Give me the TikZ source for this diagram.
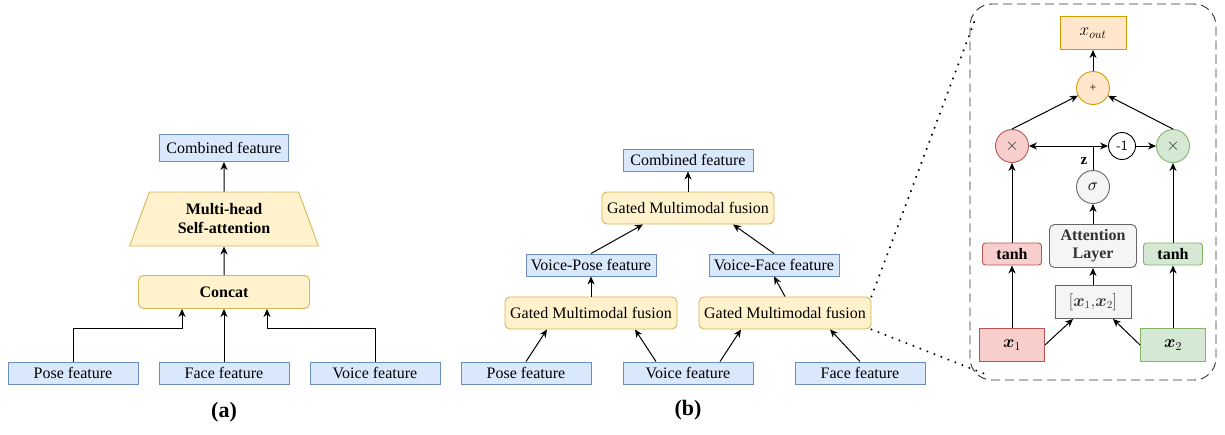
\documentclass[tikz,border=0pt]{standalone}
\usepackage{fontspec}
\setmainfont{Liberation Serif}
\usepackage{amsmath}
\usetikzlibrary{arrows.meta,positioning,fit,shapes}

\definecolor{featFill}{HTML}{DAE8FC}
\definecolor{featLine}{HTML}{6C8EBF}
\definecolor{fuseFill}{HTML}{FFF2CC}
\definecolor{fuseLine}{HTML}{D6B656}
\definecolor{outFill}{HTML}{FFE6CC}
\definecolor{outLine}{HTML}{D79B00}
\definecolor{redFill}{HTML}{F8CECC}
\definecolor{redLine}{HTML}{B85450}
\definecolor{greenFill}{HTML}{D5E8D4}
\definecolor{greenLine}{HTML}{82B366}
\definecolor{grayFill}{HTML}{F5F5F5}
\definecolor{grayLine}{HTML}{666666}
\definecolor{grayText}{HTML}{333333}

\begin{document}
\begin{tikzpicture}
	[ x=1pt, y=-1pt, font=\fontsize{16}{19}\selectfont,
		feature/.style={rectangle,draw=featLine,fill=featFill,line width=0.9pt,minimum width=130pt,minimum height=22pt,inner sep=0pt},
		fusion/.style={rectangle,rounded corners=5pt,draw=fuseLine,fill=fuseFill,line width=0.9pt,minimum width=172pt,minimum height=32pt,inner sep=0pt},
		op/.style={circle,line width=0.9pt,minimum size=33pt,inner sep=0pt},
		gate/.style={rectangle,line width=0.9pt,inner sep=0pt},
		caption/.style={font=\fontsize{22}{25}\selectfont\bfseries},
		arrowOut/.style={-{Stealth[length=8pt,width=7pt,inset=2.5pt]},line width=1pt},
		link/.style={line width=1pt},
		zoomLine/.style={line width=2.3pt,dash pattern=on 0.01pt off 7.5pt,line cap=round}]

	\useasboundingbox (0,0) rectangle (1225,434);

	% (a) concat + self-attention
	\node[feature] (poseA) at (73,373) {Pose feature};
	\node[feature] (faceA) at (224,373) {Face feature};
	\node[feature] (voiceA) at (375,373) {Voice feature};
	\node[fusion,minimum width=171pt,minimum height=33pt,font=\fontsize{16}{19}\selectfont\bfseries] (concat) at (224,292) {Concat};
	\node[trapezium,trapezium angle=68,trapezium stretches=true,minimum width=189pt,minimum height=54pt,
		draw=fuseLine,fill=fuseFill,line width=0.9pt,inner sep=0pt,align=center,
		font=\fontsize{16}{19}\selectfont\bfseries] (selfatt) at (224,219) {Multi-head\\Self-attention};
	\node[feature,minimum width=129pt,minimum height=27pt] (combA) at (224,148) {Combined feature};

	\draw[arrowOut] (poseA.north) -- ++(0,-33) -| ([xshift=-42pt]concat.south);
	\draw[arrowOut] (faceA.north) -- (concat.south);
	\draw[arrowOut] (voiceA.north) -- ++(0,-33) -| ([xshift=43pt]concat.south);
	\draw[arrowOut] (concat.north) -- (selfatt.south);
	\draw[arrowOut] (selfatt.north) -- (combA.south);

	\node[caption] (capA) at (224,412) {(a)};

	% (b) hierarchical gated fusion
	\node[feature] (poseB) at (526,373) {Pose feature};
	\node[feature] (voiceB) at (688,373) {Voice feature};
	\node[feature] (faceB) at (860,373) {Face feature};
	\node[fusion] (gmfL) at (591,313) {Gated Multimodal fusion};
	\node[fusion] (gmfR) at (785,313) {Gated Multimodal fusion};
	\node[feature] (vpose) at (591,265) {Voice-Pose feature};
	\node[feature] (vface) at (774,265) {Voice-Face feature};
	\node[fusion] (gmfT) at (688,208) {Gated Multimodal fusion};
	\node[feature] (combB) at (688,160) {Combined feature};

	\draw[arrowOut] (poseB.north) -- ([xshift=-44pt]gmfL.south);
	\draw[arrowOut] ([xshift=-32pt]voiceB.north) -- ([xshift=44pt]gmfL.south);
	\draw[arrowOut] ([xshift=32pt]voiceB.north) -- ([xshift=-44pt]gmfR.south);
	\draw[arrowOut] (faceB.north) -- ([xshift=45pt]gmfR.south);
	\draw[arrowOut] (gmfL.north) -- (vpose.south);
	\draw[arrowOut] (gmfR.north) -- (vface.south);
	\draw[arrowOut] (vpose.north) -- ([xshift=-45pt]gmfT.south);
	\draw[arrowOut] (vface.north) -- ([xshift=45pt]gmfT.south);
	\draw[arrowOut] (gmfT.north) -- (combB.south);

	\node[caption] (capB) at (688,410) {(b)};

	% zoomed gated unit
	\node[gate,draw=redLine,fill=redFill,minimum width=65pt,minimum height=33pt,font=\fontsize{18}{20}\selectfont] (xone) at (1012,345) {$\boldsymbol{x}_1$};
	\node[gate,draw=greenLine,fill=greenFill,minimum width=65pt,minimum height=33pt,font=\fontsize{18}{20}\selectfont] (xtwo) at (1173,345) {$\boldsymbol{x}_2$};
	\node[gate,draw=grayLine,fill=grayFill,text=grayText,minimum width=76pt,minimum height=33pt] (pair) at (1093,302) {$[\boldsymbol{x}_1{,}\boldsymbol{x}_2]$};
	\node[gate,rounded corners=3pt,draw=redLine,fill=redFill,minimum width=59pt,minimum height=22pt,font=\fontsize{16}{19}\selectfont\bfseries] (tanhL) at (1012,254) {tanh};
	\node[gate,rounded corners=3pt,draw=greenLine,fill=greenFill,minimum width=59pt,minimum height=22pt,font=\fontsize{16}{19}\selectfont\bfseries] (tanhR) at (1173,254) {tanh};
	\node[gate,rounded corners=5pt,draw=grayLine,fill=grayFill,text=grayText,minimum width=87pt,minimum height=43pt,align=center,
		font=\fontsize{16}{18}\selectfont\bfseries] (attn) at (1093,246) {Attention\\Layer};
	\node[op,draw=grayLine,fill=grayFill] (sigma) at (1093,187) {$\sigma$};
	\node[op,draw=redLine,fill=redFill,text=grayText] (timesL) at (1012,146) {$\times$};
	\node[op,draw=greenLine,fill=greenFill,text=grayText] (timesR) at (1173,146) {$\times$};
	\node[op,draw=black,fill=white,minimum size=27pt,font=\fontsize{14}{16}\sffamily] (neg) at (1122,146) {-1};
	\node[op,draw=outLine,fill=outFill,font=\fontsize{12}{14}\selectfont] (plus) at (1093,88) {+};
	\node[gate,draw=outLine,fill=outFill,minimum width=66pt,minimum height=33pt,font=\fontsize{18}{20}\selectfont] (xout) at (1093,33) {$x_{out}$};
	\coordinate (zjoin) at (1093,146);
	\node[font=\fontsize{15}{17}\selectfont\bfseries] (zlabel) at (1084,161) {z};

	\draw[arrowOut] (xone.east) -- ([xshift=-20pt]pair.south);
	\draw[arrowOut] (xtwo.west) -- ([xshift=20pt]pair.south);
	\draw[arrowOut] (xone) -- (tanhL);
	\draw[arrowOut] (xtwo) -- (tanhR);
	\draw[arrowOut] (pair) -- (attn);
	\draw[arrowOut] (attn) -- (sigma);
	\draw[arrowOut] (tanhL) -- (timesL);
	\draw[arrowOut] (tanhR) -- (timesR);
	\draw[link] (sigma.north) -- (zjoin);
	\draw[arrowOut] (zjoin) -- (timesL.east);
	\draw[arrowOut] (zjoin) -- (neg.west);
	\draw[arrowOut] (neg.east) -- (timesR.west);
	\draw[arrowOut] (timesL.north) -- (plus);
	\draw[arrowOut] (timesR.north) -- (plus);
	\draw[arrowOut] (plus) -- (xout);

	% frame and zoom lines
	\node[draw=grayText,dash pattern=on 9pt off 5pt,line width=0.9pt,rounded corners=22pt,inner sep=0pt,
		fit={(970,4) (1216,380)}] (frame) {};
	\coordinate (zoomTop) at (976,17);
	\coordinate (zoomBot) at (990,376);
	\draw[zoomLine] (gmfR.north east) -- (zoomTop);
	\draw[zoomLine] (gmfR.south east) -- (zoomBot);
\end{tikzpicture}
\end{document}
